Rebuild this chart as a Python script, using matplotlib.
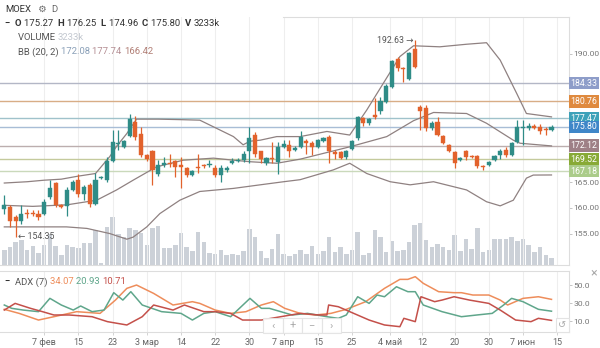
import matplotlib
matplotlib.use("Agg")
import matplotlib.pyplot as plt
import matplotlib.transforms as mtransforms
from matplotlib.lines import Line2D
from matplotlib.patches import Rectangle
import numpy as np

plt.rcParams['font.family'] = ['Roboto', 'DejaVu Sans']

# --- daily candles (MOEX) ---
opens = [159.7, 160.2, 158.3, 157.5, 159.1, 159.1, 158.9, 158.9, 162.1, 164.9,
         160.6, 160.4, 163.5, 165.4, 162.8, 164.5, 160.8, 165.9, 165.4, 169.2,
         172.4, 171.9, 174.0, 176.8, 174.5, 170.3, 171.0, 166.6, 168.4, 168.8,
         169.2, 168.4, 167.7, 166.5, 167.9, 168.3, 168.4, 167.7, 166.4, 167.3,
         168.8, 169.2, 169.3, 171.0, 174.2, 171.0, 168.7, 169.8, 168.9, 171.9,
         172.2, 171.3, 171.8, 173.0, 172.6, 171.9, 173.1, 173.9, 170.8, 170.8,
         170.0, 171.4, 173.6, 177.5, 176.5, 178.1, 178.8, 180.7, 183.6, 189.0,
         187.2, 185.1, 190.9, 179.7, 179.4, 175.5, 176.8, 174.0, 172.3, 170.8,
         169.3, 171.1, 170.1, 170.1, 168.1, 168.4, 169.3, 170.3, 171.3, 170.3,
         172.9, 175.6, 175.5, 175.9, 175.8, 175.4, 175.27]
highs = [162.5, 160.6, 158.6, 160.6, 159.8, 159.6, 159.6, 161.7, 165.4, 165.1,
         160.8, 164.1, 165.4, 166.7, 164.5, 164.8, 166.9, 166.3, 170.0, 175.2,
         175.2, 173.3, 178.4, 177.9, 175.8, 170.6, 171.3, 169.4, 170.0, 170.6,
         169.3, 170.0, 168.0, 167.3, 170.6, 168.5, 169.3, 168.4, 168.4, 168.1,
         169.7, 169.7, 171.0, 175.8, 174.8, 171.0, 169.9, 172.9, 172.9, 173.2,
         173.2, 172.0, 174.9, 173.4, 173.0, 173.4, 173.9, 174.3, 171.2, 171.1,
         171.2, 173.3, 177.9, 177.8, 177.6, 181.4, 181.6, 184.1, 188.9, 189.5,
         187.5, 190.3, 192.63, 180.1, 180.0, 176.9, 177.7, 174.2, 172.5, 171.0,
         169.9, 171.3, 170.4, 170.3, 168.3, 169.2, 170.3, 171.4, 171.9, 172.9,
         177.1, 177.2, 176.5, 176.3, 176.4, 175.8, 176.25]
lows = [158.9, 156.3, 154.35, 156.9, 158.0, 158.4, 157.6, 158.6, 161.7, 160.2,
        159.9, 158.4, 163.2, 162.2, 161.5, 160.2, 160.6, 165.6, 165.1, 169.0,
        171.3, 171.6, 173.9, 173.3, 170.0, 169.1, 164.5, 166.3, 168.0, 168.0,
        166.1, 163.8, 166.1, 166.3, 166.9, 167.8, 168.0, 166.1, 165.1, 167.0,
        168.6, 169.0, 169.0, 168.7, 170.0, 168.7, 168.4, 168.7, 166.6, 171.6,
        170.0, 171.0, 171.6, 170.5, 170.3, 171.6, 172.8, 168.7, 169.5, 169.5,
        169.6, 171.2, 173.3, 175.9, 176.2, 177.4, 178.4, 180.5, 183.4, 186.6,
        184.6, 184.9, 187.3, 175.2, 174.9, 175.2, 174.0, 172.5, 170.8, 167.8,
        169.1, 169.3, 169.7, 167.8, 167.3, 168.2, 169.1, 169.6, 170.0, 170.1,
        172.6, 172.3, 175.2, 175.3, 174.5, 174.3, 174.96]
closes = [160.6, 157.5, 157.5, 158.8, 158.9, 158.85, 158.3, 161.2, 163.9, 160.6,
          160.1, 163.4, 165.1, 162.8, 164.1, 160.8, 165.4, 166.1, 169.2, 172.9,
          172.6, 173.0, 177.4, 173.8, 170.3, 169.5, 167.4, 168.4, 168.8, 168.6,
          167.9, 168.0, 166.4, 167.1, 167.7, 168.1, 168.6, 166.4, 167.8, 167.8,
          169.2, 169.4, 170.5, 173.7, 170.6, 169.5, 169.7, 169.6, 171.9, 172.5,
          171.1, 171.6, 173.8, 172.6, 171.9, 173.2, 173.7, 171.0, 170.5, 169.7,
          171.0, 173.0, 177.8, 176.5, 177.3, 177.8, 180.8, 183.8, 188.7, 187.2,
          187.0, 190.1, 187.5, 178.8, 175.5, 176.6, 174.2, 172.7, 171.0, 168.8,
          169.7, 170.0, 169.9, 168.2, 168.0, 169.0, 170.1, 171.1, 170.3, 172.6,
          175.8, 175.8, 176.0, 175.6, 174.9, 175.1, 175.80]
volume_k = [6580, 7980, 9800, 10780, 6580, 8400, 5180, 8820, 13580, 8400,
            4200, 8820, 7980, 7420, 9380, 9380, 14980, 700, 16380, 20580,
            13300, 11900, 16100, 14980, 14000, 8820, 16100, 16800, 7420, 7420,
            8680, 14000, 7700, 6020, 14420, 9800, 5180, 4900, 6300, 4200,
            4900, 4200, 6020, 15400, 12180, 6020, 3220, 6860, 13580, 4900,
            3780, 4620, 6300, 4900, 8260, 4620, 6020, 12180, 5600, 7700,
            4620, 6580, 14420, 4200, 5180, 14980, 12180, 5600, 10220, 6020,
            6580, 9800, 17220, 18200, 10780, 7980, 9100, 7700, 6300, 13020,
            6020, 11200, 7000, 15820, 5600, 6580, 11200, 11200, 11200, 11900,
            10500, 11200, 8820, 5600, 7980, 4200, 3233]

# Bollinger bands (20, 2), read at turning points
bb_up_x = [0, 4, 7, 10, 13, 16, 18.5, 19.7, 21.5, 23.2, 27, 31, 34.3, 36.7, 40.2,
           41.9, 43.1, 44.9, 47.8, 51.9, 56.6, 60.6, 63.6, 66.5, 69.4, 71.8,
           76.4, 81.1, 84.6, 87, 89.9, 91.6, 96]
bb_up_v = [164.85, 165.1, 165.4, 165.6, 166.2, 166.7, 170.0, 172.0, 174.5, 177.3,
           177.3, 177.2, 177.1, 175.8, 173.9, 172.3, 173.0, 173.2, 173.9, 173.9,
           174.9, 174.2, 179.1, 184.3, 189.5, 191.6, 191.4, 191.9, 192.2, 188.8,
           182.3, 178.4, 177.74]
bb_mid_x = [0, 5, 11, 16.2, 19.7, 22.6, 26.7, 31.4, 36.7, 40.2, 43.1, 47.8, 51.9,
            60.6, 67.1, 71.8, 75.3, 81.1, 84.6, 89.3, 90.5, 96]
bb_mid_v = [160.5, 160.3, 160.6, 161.5, 163.5, 165.4, 168.0, 169.3, 169.7, 169.3,
            169.0, 168.7, 169.5, 171.9, 173.9, 177.0, 178.6, 178.4, 176.5, 173.2,
            172.6, 172.08]
bb_low_x = [0, 10.9, 14.5, 18.5, 21.5, 22.6, 25, 27.3, 30.8, 34.3, 40.2, 44.9, 49,
            51.9, 57.7, 60.6, 63.6, 67.7, 71.2, 75.3, 81.1, 84.6, 87, 89.3, 91.6,
            92.8, 96]
bb_low_v = [156.3, 156.3, 156.0, 155.0, 153.9, 154.3, 156.3, 158.9, 161.5, 163.2,
            163.8, 164.5, 165.1, 165.5, 167.4, 168.7, 166.7, 165.1, 164.5, 165.1,
            163.5, 161.2, 160.4, 161.5, 165.8, 166.4, 166.42]

# ADX (7)
adx_x = [0, 2.6, 6, 8.7, 12.7, 16.8, 19.5, 21.5, 23.2, 26.2, 29.6, 33, 34.3, 37,
         39.7, 42.4, 45.1, 47.2, 49.2, 51.9, 54.6, 57.3, 60, 63.4, 66.7, 69.4,
         70.8, 72.1, 73.5, 76.2, 78.9, 80.2, 82.2, 85, 87, 88.3, 91, 93.7, 96]
adx_v = [23.0, 18.5, 11.1, 14.8, 20.4, 18.5, 33.3, 46.3, 50.0, 40.7, 27.8, 31.5,
         29.6, 22.2, 18.5, 20.4, 27.8, 31.5, 24.1, 18.5, 16.7, 18.5, 23.0, 31.5,
         46.3, 56.3, 56.3, 59.3, 51.9, 42.6, 41.5, 41.5, 38.9, 38.9, 33.3, 27.8,
         35.2, 37.0, 34.07]
pdi_x = [0, 1.3, 3.3, 6, 8, 10, 12.1, 13.4, 15.4, 17.5, 19.2, 20.8, 22.2, 24.2,
         27.6, 31, 33, 35, 37, 39.7, 43.1, 45.1, 46.5, 48.5, 50.5, 53.2, 56.6,
         58.6, 60, 62, 64, 65.4, 66.7, 68.8, 70.8, 72.1, 73.5, 76.8, 80.2, 82.9,
         85.6, 87.6, 89, 91, 93.7, 96]
pdi_v = [27.8, 24.1, 22.2, 20.4, 35.2, 27.8, 22.2, 26.7, 20.4, 22.2, 41.5, 33.3,
         42.6, 27.8, 20.4, 18.5, 11.1, 18.5, 20.4, 14.8, 35.2, 24.1, 24.1, 20.4,
         16.7, 18.5, 14.8, 13.0, 16.7, 37.0, 29.6, 38.9, 37.0, 48.1, 42.6, 42.6,
         27.8, 20.4, 14.8, 16.7, 18.5, 27.8, 35.2, 31.5, 23.0, 20.93]
mdi_x = [0, 1.9, 4.6, 6.7, 8.7, 11.4, 15.4, 18.1, 21.5, 24.2, 26.2, 29.6, 31.6,
         35, 37, 39.7, 41.8, 45.1, 48.5, 51.9, 55.2, 56.6, 56.9, 58.6, 61.3, 64,
         66.7, 69.4, 70.1, 72.1, 73.1, 75.5, 76.8, 78.9, 81.6, 85, 87, 89.7, 92.4,
         93.7, 96]
mdi_v = [22.2, 29.6, 24.1, 20.4, 16.7, 16.7, 14.8, 9.3, 5.6, 14.8, 27.8, 22.2,
         27.8, 20.4, 20.4, 18.5, 11.1, 11.1, 14.8, 18.5, 16.7, 16.7, 27.8, 25.9,
         18.5, 11.1, 5.6, 3.7, 13.0, 9.3, 37.0, 31.5, 33.3, 37.0, 33.3, 29.6, 22.2,
         11.1, 9.3, 13.0, 10.71]

# horizontal price levels: value, line colour, label colour
levels = [184.33, 180.76, 177.47, 175.80, 172.12, 169.52, 167.18]
level_lines = ['#b3b7c6', '#d8ad86', '#9fc2cb', '#a8bdd6', '#bcaeae', '#c4ca9c', '#cad9bb']
level_boxes = ['#8e9dc9', '#df8a3f', '#3da2b9', '#3f86c8', '#9e8086', '#88aa36', '#abcc8a']

tick_pos = [7, 13, 19, 25, 31, 37, 43, 49, 55, 61, 67.6, 73.3, 79, 85, 91, 97]
tick_labels = ['7 фев', '15', '23', '3 мар', '14', '22', '30', '7 апр', '15', '25',
               '4 май', '12', '20', '30', '7 июн', '15']

GREEN = '#2f8c87'
ORANGE = '#e2622c'
BB_COL = '#8f8181'
W, H = 600, 348


def fx(px):
    return px / W


def fy(py):
    return 1 - py / H


fig = plt.figure(figsize=(6, 3.48), dpi=100)
fig.patch.set_facecolor('white')

ax = fig.add_axes([0, fy(265), fx(569), (265 - 17) / H])
ax_adx = fig.add_axes([0, fy(332), fx(569), (332 - 271) / H], sharex=ax)
ax_vol = ax.twinx()
ax.set_zorder(ax_vol.get_zorder() + 1)
ax.patch.set_visible(False)

x = np.arange(len(closes))
o = np.array(opens)
c = np.array(closes)
up = c >= o
cols = np.where(up, GREEN, ORANGE)

# volume
ax_vol.bar(x, volume_k, width=0.78, color='#ccd1d8', zorder=1)
ax_vol.set_ylim(0, max(volume_k) * 5.2)
ax_vol.yaxis.set_visible(False)
for s in ax_vol.spines.values():
    s.set_visible(False)

# grid
for t in tick_pos:
    ax.axvline(t, color='#eeeeee', lw=0.8, zorder=0)
    ax_adx.axvline(t, color='#eeeeee', lw=0.8, zorder=0)

# levels with tags on the price scale
trans = mtransforms.blended_transform_factory(ax.transAxes, ax.transData)
for lv, lc, bc in zip(levels, level_lines, level_boxes):
    ax.axhline(lv, color=lc, lw=1.0, zorder=1)
    ax.text(1.003, lv, f'{lv:.2f}', transform=trans, ha='left', va='center',
            fontsize=6.3, color='white', clip_on=False, zorder=5,
            bbox=dict(boxstyle='square,pad=0.2', fc=bc, ec='none'))

# bollinger
ax.plot(bb_up_x, bb_up_v, color=BB_COL, lw=0.9, zorder=2)
ax.plot(bb_mid_x, bb_mid_v, color=BB_COL, lw=0.9, zorder=2)
ax.plot(bb_low_x, bb_low_v, color=BB_COL, lw=0.9, zorder=2)

# candles
ax.vlines(x, lows, highs, colors=cols, lw=0.9, zorder=3)
body_lo = np.minimum(o, c)
body_h = np.maximum(np.abs(c - o), 0.15)
ax.bar(x, body_h, bottom=body_lo, width=0.72, color=cols, edgecolor=cols, lw=0.3, zorder=4)

ax.text(72 - 0.2, 192.63, '192.63 →', ha='right', va='center', fontsize=6.3, color='#555555')
ax.text(2 + 0.4, 154.35, '← 154.35', ha='left', va='center', fontsize=6.3, color='#555555')

ax.set_xlim(-0.754, 99.07)
ax.set_ylim(148.87, 197.21)
ax.yaxis.tick_right()
ax.set_yticks([155, 160, 165, 190])
ax.set_yticklabels(['155.00', '160.00', '165.00', '190.00'])
ax.tick_params(axis='y', length=2, width=0.6, color='#bbbbbb', labelsize=6.1,
               labelcolor='#777777', pad=1)
ax.tick_params(axis='x', bottom=False, labelbottom=False)
for name, s in ax.spines.items():
    s.set_visible(name in ('right', 'bottom'))
    s.set_color('#dddddd')
    s.set_linewidth(0.8)

# ADX panel
ax_adx.plot(adx_x, adx_v, color='#ee8d5b', lw=1.1)
ax_adx.plot(pdi_x, pdi_v, color='#5fa68b', lw=1.1)
ax_adx.plot(mdi_x, mdi_v, color='#c4504a', lw=1.1)
ax_adx.set_ylim(-2.2, 65.6)
ax_adx.yaxis.tick_right()
ax_adx.set_yticks([10, 30, 50])
ax_adx.set_yticklabels(['10.0', '30.0', '50.0'])
ax_adx.tick_params(axis='y', length=2, width=0.6, color='#bbbbbb', labelsize=6.1,
                   labelcolor='#777777', pad=1)
ax_adx.set_xticks(tick_pos)
ax_adx.set_xticklabels(tick_labels)
ax_adx.tick_params(axis='x', length=2, width=0.6, color='#cccccc', labelsize=6.5,
                   labelcolor='#666666', pad=2)
for s in ax_adx.spines.values():
    s.set_color('#dddddd')
    s.set_linewidth(0.8)
ax_adx.spines['left'].set_visible(False)

# chart frame top edge
fig.add_artist(Line2D([fx(283), fx(569)], [fy(17), fy(17)], color='#dddddd', lw=0.8))

# zoom controls over the ADX panel
for k, sym in enumerate(['‹', '+', '−', '›']):
    x0 = 263 + k * 19.5
    fig.add_artist(Rectangle((fx(x0), fy(333)), fx(19.5), 15 / H, fc='white', ec='#e3e3e3',
                             lw=0.8, alpha=0.9, zorder=10))
    fig.text(fx(x0 + 9.75), fy(325.5), sym, ha='center', va='center', fontsize=8,
             color='#aaaaaa', zorder=11)
fig.add_artist(Rectangle((fx(556), fy(332)), fx(13), 14 / H, fc='white', ec='#e3e3e3',
                         lw=0.8, zorder=10))
fig.text(fx(562.5), fy(325), '↺', ha='center', va='center', fontsize=7, color='#aaaaaa',
         family=['DejaVu Sans'], zorder=11)
fig.text(fx(594), fy(273), '×', ha='center', va='center', fontsize=9, color='#aaaaaa')

# header rows
renderer = fig.canvas.get_renderer()


def row(px, py, parts, size=6.8):
    for s, col, wt in parts:
        t = fig.text(fx(px), fy(py), s, ha='left', va='center', fontsize=size,
                     color=col, fontweight=wt)
        px += t.get_window_extent(renderer).width * W / fig.bbox.width


DARK = '#333333'
row(5, 9, [('MOEX', DARK, 'normal'), ('   ⚙  ', '#666666', 'normal'),
           ('D', '#666666', 'normal')])
row(5, 24, [('−  ', DARK, 'bold'), ('O ', DARK, 'bold'), ('175.27  ', DARK, 'normal'),
            ('H ', DARK, 'bold'), ('176.25  ', DARK, 'normal'),
            ('L ', DARK, 'bold'), ('174.96  ', DARK, 'normal'),
            ('C ', DARK, 'bold'), ('175.80  ', DARK, 'normal'),
            ('V ', DARK, 'bold'), ('3233k', DARK, 'normal')])
row(18, 38, [('VOLUME ', '#555555', 'normal'), ('3233k', '#c3c8d0', 'normal')])
row(18, 52, [('BB (20, 2) ', '#555555', 'normal'), ('172.08 ', '#8aa0b8', 'normal'),
             ('177.74 ', '#b58f94', 'normal'), ('166.42', '#b07d74', 'normal')])
row(5, 282, [('−  ', DARK, 'bold'), ('ADX (7) ', '#555555', 'normal'),
             ('34.07 ', '#ee8d5b', 'normal'), ('20.93 ', '#5fa68b', 'normal'),
             ('10.71', '#c4504a', 'normal')])

fig.savefig('out.png', dpi=100)
